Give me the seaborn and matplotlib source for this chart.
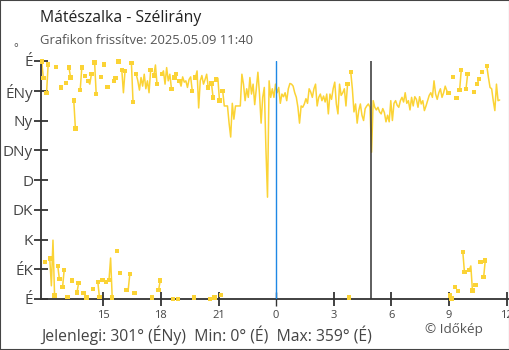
import numpy as np
import pandas as pd
import matplotlib
matplotlib.use("Agg")
import matplotlib.pyplot as plt
import seaborn as sns
from matplotlib.patches import Rectangle

# ---- data (wind direction in degrees, 5-minute readings) ----
start_hour = -12.2          # hours relative to midnight of the first reading
step_minutes = 5
direction = [
    359, 334, 56, 312, 355, 61, 20, 89, 5, 351, 50, 30,
    320, 18, 44, 327, 3, 350, 335, 28, 300, 258, 10, 24,
    316, 350, 9, 337, 2, 330, 325, 340, 15, 358, 310, 26,
    3, 336, 29, 355, 26, 321, 29, 62, 2, 330, 334, 73,
    359, 39, 346, 312, 345, 14, 14, 38, 357, 298, 9, 340,
    330, 316, 335, 322, 340, 318, 330, 312, 346, 2, 338, 354,
    325, 14, 28, 340, 345, 325, 350, 330, 340, 318, 0, 335,
    340, 0, 330, 322, 336, 328, 330, 320, 332, 336, 315, 2,
    335, 345, 289, 330, 338, 325, 332, 340, 320, 0, 326, 305,
    2, 332, 334, 300, 6, 315, 292, 292, 292, 266, 245, 296,
    272, 292, 292, 292, 292, 340, 325, 300, 318, 305, 335, 310,
    325, 294, 318, 343, 310, 266, 305, 320, 228, 154, 330, 305,
    318, 305, 325, 312, 320, 296, 310, 306, 312, 300, 318, 326,
    325, 322, 312, 305, 290, 266, 292, 290, 295, 303, 296, 318,
    313, 305, 318, 325, 292, 305, 310, 300, 307, 298, 310, 280,
    310, 302, 318, 328, 295, 280, 325, 308, 312, 318, 292, 325,
    2, 343, 318, 283, 295, 266, 285, 295, 278, 270, 288, 292,
    295, 290, 222, 300, 290, 286, 290, 283, 280, 288, 282, 268,
    278, 268, 300, 270, 296, 300, 293, 290, 300, 305, 298, 312,
    296, 300, 286, 305, 292, 306, 302, 290, 306, 295, 300, 285,
    292, 300, 308, 312, 305, 330, 310, 302, 312, 318, 305, 312,
    322, 315, 312, 5, 1, 336, 18, 304, 12, 316, 346, 71,
    41, 318, 340, 44, 50, 13, 313, 21, 325, 333, 56, 343,
    33, 58, 352, 335, 320, 318, 300, 285, 325, 300, 301,
]
midnight_h = 0.0
marker_h = 4.93
ytick_vals = [0, 45, 90, 135, 180, 225, 270, 315, 360]
ytick_labels = ["É", "ÉK", "K", "DK", "D", "DNy", "Ny", "ÉNy", "É"]
xtick_vals = [-9, -6, -3, 0, 3, 6, 9, 12]
xtick_labels = ["15", "18", "21", "0", "3", "6", "9", "12"]
title = "Mátészalka - Szélirány"
subtitle = "Grafikon frissítve: 2025.05.09 11:40"
footer = "Jelenlegi: 301° (ÉNy)  Min: 0° (É)  Max: 359° (É)"
credit = "© Időkép"

YEL = "#FBD335"
BLUE = "#1E88E5"
DARK = "#333333"

sns.set_theme(style="white")
plt.rcParams["font.family"] = ["Open Sans", "DejaVu Sans"]

n = len(direction)
hours = start_hour + np.arange(n) * step_minutes / 60
df = pd.DataFrame({"h": hours, "deg": direction})
jump = np.abs(np.diff(df["deg"].values)) > 180
df["seg"] = np.concatenate([[0], np.cumsum(jump)])
idx = np.arange(n)
first = df["seg"].ne(df["seg"].shift()).values & (idx > 0)
last = df["seg"].ne(df["seg"].shift(-1)).values & (idx < n - 1)
df["edge"] = first | last | (idx == 0)

W, H = 510, 350
fig = plt.figure(figsize=(W / 100, H / 100), dpi=100)
fig.patch.set_facecolor("white")
ax = fig.add_axes([41 / W, 51 / H, 468 / W, 238 / H])
ax.set_facecolor("white")

sns.lineplot(data=df, x="h", y="deg", units="seg", estimator=None,
             color=YEL, lw=1.1, ax=ax, legend=False)
sns.scatterplot(data=df[df["edge"]], x="h", y="deg", marker="s", s=10,
                color=YEL, edgecolor="none", linewidth=0, ax=ax,
                legend=False, clip_on=False, zorder=3)

ax.axvline(midnight_h, color=BLUE, lw=1.0, zorder=4)
ax.axvline(marker_h, color=DARK, lw=1.1, zorder=4)

ax.set_xlim(-12.24, 12.12)
ax.set_ylim(0, 360)
ax.set_yticks(ytick_vals)
ax.set_yticklabels(ytick_labels)
ax.set_xticks(xtick_vals)
ax.set_xticklabels(xtick_labels)
ax.set_xlabel("")
ax.set_ylabel("")

for s in ["top", "right"]:
    ax.spines[s].set_visible(False)
for s in ["left", "bottom"]:
    ax.spines[s].set_color(DARK)
    ax.spines[s].set_linewidth(1.3)

ax.tick_params(axis="y", direction="inout", length=9.5, width=1.3,
               color=DARK, labelcolor="#444444", labelsize=11, pad=1, left=True)
ax.tick_params(axis="x", direction="inout", length=9.5, width=1.3,
               color=DARK, labelcolor="#444444", labelsize=8, pad=3, bottom=True)
for t, v in zip(ax.xaxis.get_major_ticks(), xtick_vals):
    if v == midnight_h:
        t.tick1line.set_color(BLUE)
        t.tick1line.set_markeredgewidth(1.0)

fig.text(40 / W, 1 - 18 / H, title, fontsize=11.3, color="#222222", va="center", ha="left")
fig.text(40 / W, 1 - 41 / H, subtitle, fontsize=9.4, color="#555555", va="center", ha="left")
fig.text(13 / W, 1 - 49 / H, "°", fontsize=8, color="#444444", va="center", ha="left")
fig.text(41 / W, 1 - 335 / H, footer, fontsize=11.3, color="#444444", va="center", ha="left")
fig.text(425 / W, 1 - 330 / H, credit, fontsize=9.7, color="#555555", va="center", ha="left")

fig.add_artist(Rectangle((0, 0), 1, 1, transform=fig.transFigure, fill=False,
                         edgecolor="#444444", lw=1.5))

fig.savefig("out.png", dpi=100, facecolor="white")
